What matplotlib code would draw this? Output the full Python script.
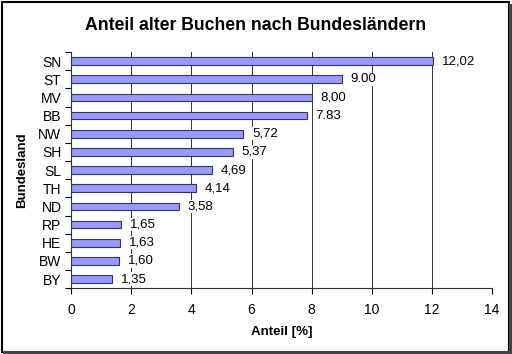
import matplotlib
matplotlib.use("Agg")
import matplotlib.pyplot as plt
import numpy as np
from matplotlib.patches import Rectangle

# Data (top to bottom as shown)
laender = ["SN", "ST", "MV", "BB", "NW", "SH", "SL", "TH", "ND", "RP", "HE", "BW", "BY"]
anteil = [12.02, 9.00, 8.00, 7.83, 5.72, 5.37, 4.69, 4.14, 3.58, 1.65, 1.63, 1.60, 1.35]
beschriftung = ["12,02", "9.00", "8,00", "7.83", "5,72", "5,37", "4,69", "4,14",
                "3,58", "1,65", "1,63", "1,60", "1,35"]

plt.rcParams['font.family'] = ['Liberation Sans', 'DejaVu Sans']

fig = plt.figure(figsize=(5.12, 3.54), dpi=100)
ax = fig.add_axes([0.139, 0.186, 0.822, 0.667])

y = np.arange(len(laender))[::-1]
ax.barh(y, anteil, height=0.42, color='#9999FF', edgecolor='#333366', linewidth=0.8, zorder=3)

for yi, v, s in zip(y, anteil, beschriftung):
    ax.text(v + 0.3, yi, s, va='center', ha='left', fontsize=9.5, zorder=4,
            bbox=dict(facecolor='white', edgecolor='none', pad=0.5))

ax.set_xlim(0, 14)
ax.set_ylim(-0.5, len(laender) - 0.5)
ax.set_xticks(np.arange(0, 15, 2))
ax.set_yticks(y)
ax.set_yticklabels(laender, fontsize=10)
ax.set_yticks(np.arange(-0.5, len(laender), 1), minor=True)
ax.tick_params(axis='y', which='major', length=0, pad=7)
ax.tick_params(axis='y', which='minor', length=4, width=0.8, direction='out')
ax.tick_params(axis='x', length=4, width=0.8, labelsize=10, pad=7)

ax.xaxis.grid(True, color='#333333', linewidth=0.7, zorder=0)
ax.spines['top'].set_visible(False)
ax.spines['right'].set_visible(False)
ax.spines['left'].set_color('#333333')
ax.spines['bottom'].set_color('#333333')

ax.set_xlabel('Anteil [%]', fontsize=9.5, fontweight='bold', labelpad=6)
ax.set_ylabel('Bundesland', fontsize=9.5, fontweight='bold', labelpad=7)
fig.text(0.5, 0.927, 'Anteil alter Buchen nach Bundesländern', ha='center', va='center',
         fontsize=12.7, fontweight='bold')

# frame with shadow like the spreadsheet export
fig.patches.append(Rectangle((0.004, 0.006), 0.99, 0.988, transform=fig.transFigure,
                             fill=False, edgecolor='black', linewidth=1.5))
fig.patches.append(Rectangle((0.006, 0.0), 0.994, 0.008, transform=fig.transFigure,
                             facecolor='#444444', edgecolor='none'))
fig.patches.append(Rectangle((0.994, 0.0), 0.006, 0.99, transform=fig.transFigure,
                             facecolor='#444444', edgecolor='none'))

fig.savefig('out.png', dpi=100)
